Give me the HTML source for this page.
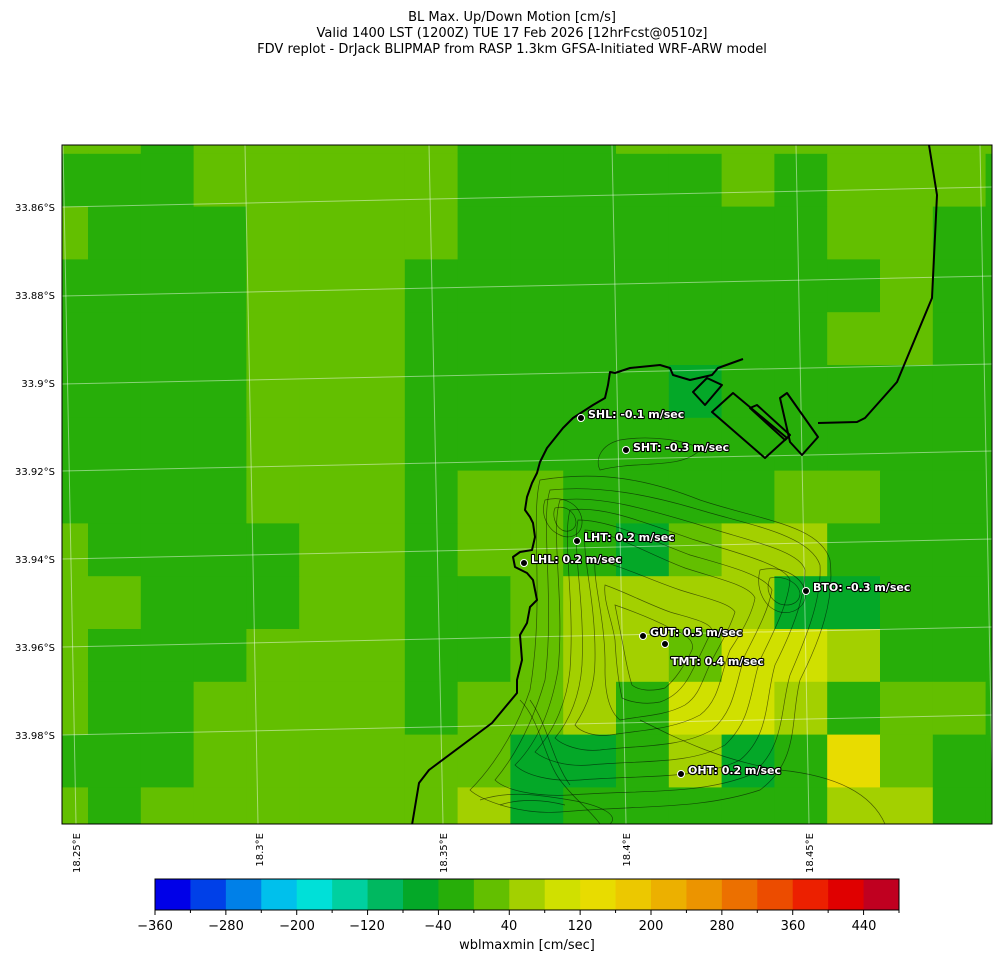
<!DOCTYPE html>
<html><head><meta charset="utf-8"><style>
body{margin:0;background:#fff;}
svg{display:block;font-family:"DejaVu Sans","Liberation Sans",sans-serif;}
</style></head><body>
<svg id="s" width="1001" height="962" viewBox="0 0 1001 962" xmlns="http://www.w3.org/2000/svg">
<text x="512" y="21" font-size="13" text-anchor="middle">BL Max. Up/Down Motion [cm/s]</text>
<text x="512" y="37" font-size="13" text-anchor="middle">Valid 1400 LST (1200Z) TUE 17 Feb 2026 [12hrFcst@0510z]</text>
<text x="512" y="53" font-size="13" text-anchor="middle">FDV replot - DrJack BLIPMAP from RASP 1.3km GFSA-Initiated WRF-ARW model</text>
<defs><clipPath id="c"><rect x="62" y="145" width="930" height="679"/></clipPath></defs>
<g id="grid" clip-path="url(#c)"></g>
<g clip-path="url(#c)" fill="none">
<g stroke="#fff" stroke-opacity="0.45" stroke-width="1">
<line x1="62" y1="207" x2="992" y2="187"/><line x1="62" y1="296" x2="992" y2="276"/>
<line x1="62" y1="384" x2="992" y2="364"/><line x1="62" y1="471" x2="992" y2="451"/>
<line x1="62" y1="559" x2="992" y2="539"/><line x1="62" y1="647" x2="992" y2="627"/>
<line x1="62" y1="735" x2="992" y2="715"/>
<line x1="63" y1="145" x2="76" y2="824"/><line x1="245" y1="145" x2="258" y2="824"/>
<line x1="429" y1="145" x2="443" y2="824"/><line x1="612" y1="145" x2="626" y2="824"/>
<line x1="796" y1="145" x2="809" y2="824"/><line x1="980" y1="145" x2="993" y2="824"/>
</g>
<g stroke="#000" stroke-opacity="0.55" stroke-width="0.7">
<path d="M540,480 C600,470 650,480 700,500 C760,520 820,525 830,560 C835,600 820,640 800,680 C790,720 800,760 760,790 C700,810 640,805 560,812 C520,815 480,800 470,790 C500,760 520,720 530,690 C545,600 530,520 540,480Z"/>
<path d="M550,490 C600,485 650,495 700,510 C750,525 810,535 820,565 C822,600 805,640 790,675 C780,710 785,750 750,775 C700,795 640,790 570,795 C535,797 505,790 495,780 C520,750 535,715 545,680 C555,600 540,520 550,490Z"/>
<path d="M560,500 C600,495 650,510 700,525 C745,540 800,550 805,570 C805,600 790,635 775,665 C765,700 770,735 740,760 C700,780 640,775 580,780 C550,782 525,775 515,765 C540,740 552,705 558,670 C565,600 550,530 560,500Z"/>
<path d="M570,510 C605,505 650,525 695,540 C735,552 785,565 790,580 C788,605 772,635 760,660 C750,690 752,720 725,745 C690,765 640,760 590,765 C565,767 545,760 535,752 C555,730 567,700 570,670 C575,600 562,540 570,510Z"/>
<path d="M578,520 C610,520 650,540 690,555 C725,565 765,575 772,590 C768,612 755,635 745,655 C735,685 735,710 712,730 C680,748 640,745 600,750 C580,752 562,745 555,738 C570,720 580,695 582,665 C585,600 572,550 578,520Z"/>
<path d="M585,530 C612,532 650,555 685,568 C715,578 750,585 755,598 C752,615 740,635 730,650 C720,675 720,700 700,715 C672,730 640,730 610,735 C595,737 580,732 575,725 C588,705 595,685 595,660 C596,600 582,560 585,530Z"/>
<path d="M595,560 C620,565 650,580 680,590 C705,598 730,603 735,612 C730,628 720,645 712,660 C702,680 700,695 685,705 C665,716 640,716 620,720 C610,712 605,695 605,670 C606,620 593,585 595,560Z"/>
<path d="M605,585 C625,592 650,605 670,612 C690,618 710,622 712,630 C705,645 698,660 690,675 C682,690 672,698 660,702 C645,705 630,702 622,698 C618,680 616,660 615,640 C612,620 603,600 605,585Z"/>
<path d="M615,605 C635,612 655,620 670,628 C685,634 695,640 692,650 C685,665 675,680 665,688 C650,692 638,690 632,685 C627,670 625,655 622,640Z"/>
<path d="M760,570 C780,565 800,575 805,590 C808,605 795,615 780,612 C765,608 755,590 760,570Z"/>
<path d="M770,578 C785,575 798,583 800,593 C800,603 790,607 780,604 C770,600 765,590 770,578Z"/>
<path d="M545,500 C565,495 580,505 582,520 C583,535 570,540 560,535 C548,530 540,515 545,500Z"/>
<path d="M555,508 C566,505 575,512 576,522 C576,530 568,533 562,530 C555,526 552,515 555,508Z"/>
<path d="M480,800 C510,790 540,795 570,800 C600,805 620,815 610,824"/>
<path d="M500,805 C520,798 545,800 565,805"/>
<path d="M520,700 C540,720 545,760 560,780 C575,800 590,810 600,824"/>
<path d="M530,700 C548,725 552,760 570,785"/>
<path d="M640,720 C680,740 720,760 780,770 C830,775 870,790 885,824"/>
<path d="M600,470 C640,460 680,470 700,450 C690,440 650,435 620,440 C600,445 595,460 600,470Z"/>
</g>
<g stroke="#000" stroke-width="2" stroke-linejoin="round">
<path d="M929,145 L937,195 L932,298 L897,382 L865,418 L857,422 L818,423 M743,359 L718,368 L712,375 L690,380 L673,375 L670,368 L660,365 L630,368 L615,373 L610,372 L608,385 L605,398 L593,405 L573,418 L563,428 L547,448 L540,462 L537,473 L532,483 L527,497 L525,510 L530,517 L533,523 L535,537 L532,550 L520,552 L513,557 L515,567 L527,573 L533,580 L537,600 L530,607 L527,623 L520,635 L522,660 L517,680 L517,693 L492,723 L429,770 L419,783 L412,825"/>
<path d="M693,392 L707,378 L722,385 L705,405 Z"/>
<path d="M712,412 L765,458 L787,438 L733,393 Z"/>
<path d="M750,408 L757,405 L790,435 L785,440 Z"/>
<path d="M780,398 L787,393 L818,437 L802,455 L790,442 Z"/>
</g>
</g>
<rect x="62" y="145" width="930" height="679" fill="none" stroke="#000" stroke-width="1"/>
<g fill="#000" stroke="#fff" stroke-width="1">
<circle cx="581" cy="418" r="3.5"/><circle cx="626" cy="450" r="3.5"/><circle cx="577" cy="541" r="3.5"/>
<circle cx="524" cy="563" r="3.5"/><circle cx="806" cy="591" r="3.5"/><circle cx="643" cy="636" r="3.5"/>
<circle cx="665" cy="644" r="3.5"/><circle cx="681" cy="774" r="3.5"/>
</g>
<g font-size="11" font-weight="bold" fill="#fff" stroke="#000" stroke-width="2.2" paint-order="stroke" stroke-linejoin="round">
<text x="588" y="418">SHL: -0.1 m/sec</text>
<text x="633" y="451">SHT: -0.3 m/sec</text>
<text x="584" y="541">LHT: 0.2 m/sec</text>
<text x="531" y="563">LHL: 0.2 m/sec</text>
<text x="813" y="591">BTO: -0.3 m/sec</text>
<text x="650" y="636">GUT: 0.5 m/sec</text>
<text x="671" y="665">TMT: 0.4 m/sec</text>
<text x="688" y="774">OHT: 0.2 m/sec</text>
</g>
<g font-size="10" text-anchor="end">
<text x="55" y="211">33.86°S</text><text x="55" y="299">33.88°S</text><text x="55" y="387">33.9°S</text>
<text x="55" y="475">33.92°S</text><text x="55" y="563">33.94°S</text><text x="55" y="651">33.96°S</text>
<text x="55" y="739">33.98°S</text>
</g>
<g font-size="10" text-anchor="end">
<text transform="translate(80,833) rotate(-90)">18.25°E</text>
<text transform="translate(263,833) rotate(-90)">18.3°E</text>
<text transform="translate(447,833) rotate(-90)">18.35°E</text>
<text transform="translate(630,833) rotate(-90)">18.4°E</text>
<text transform="translate(813,833) rotate(-90)">18.45°E</text>
</g>
<g id="cb"></g>
<rect x="155" y="879" width="744" height="31" fill="none" stroke="#000" stroke-width="1"/>
<g font-size="13" text-anchor="middle">
<text x="155" y="930">−360</text><text x="226" y="930">−280</text><text x="297" y="930">−200</text>
<text x="367" y="930">−120</text><text x="438" y="930">−40</text><text x="509" y="930">40</text>
<text x="580" y="930">120</text><text x="651" y="930">200</text><text x="722" y="930">280</text>
<text x="793" y="930">360</text><text x="864" y="930">440</text>
<text x="527" y="949">wblmaxmin [cm/sec]</text>
</g>
</svg>
<script>
var C={G:"#27ae09",L:"#63bf00",Y:"#a3d000",Q:"#d0e000",X:"#e8dc00",D:"#04a828"};
var R=["LLGLLLLLGGGLLLLLLLL","GGGLLLLLGGGGGLGLLLG","LGGGLLLLGGGGGGGLLGG","GGGGLLLGGGGGGGGGLGG","GGGGLLLGGGGGGGGLLGG","GGGGLLLGGGGGDGGGGGG","GGGGLLLGGGGGGGGGGGG","GGGGLLLGLLGGGGLLGGG","LGGGGLLGLLGDLYYGGGG","LLGGGLLGGLYYYYDDGGG","LGGGLLLGGLYYLQQYGGG","LGGLLLLGLLYGQQYGLLG","GGGLLLLLLDDGYDGXLGG","LGLLLLLLYDGGGGGYYGG"];
var g=document.getElementById("grid"),s="";
for(var j=0;j<R.length;j++)for(var i=0;i<19;i++){s+='<rect x="'+(35.2+52.8*i)+'" y="'+(101+52.8*j)+'" width="53.3" height="53.3" fill="'+C[R[j][i]]+'"/>';}
g.innerHTML=s;
var cb=["#0000e8","#0040e8","#0080e8","#00c0ec","#00e0d8","#00d0a0","#00b860","#04a828","#27ae09","#63bf00","#a3d000","#d0e000","#e8dc00","#ecc800","#ecb000","#ec9400","#ec7000","#ec4c00","#ec2000","#e00000","#c00020"];
s="";var w=744/21;
for(var k=0;k<21;k++){s+='<rect x="'+(155+w*k)+'" y="879" width="'+(w+0.5)+'" height="31" fill="'+cb[k]+'"/>';}
for(var k=0;k<=21;k++){s+='<line x1="'+(155+w*k)+'" y1="910" x2="'+(155+w*k)+'" y2="'+(k%2==0?915:913)+'" stroke="#000"/>';}
document.getElementById("cb").innerHTML=s;
</script>
</body></html>
